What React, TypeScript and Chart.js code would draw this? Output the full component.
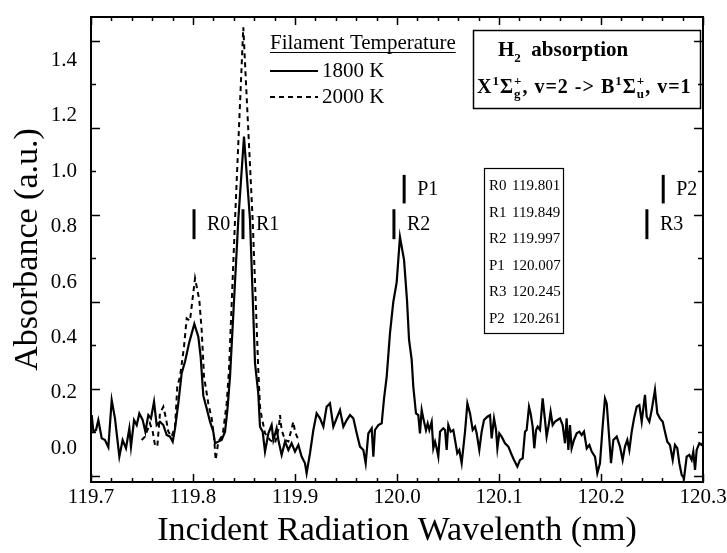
import React, { useEffect, useRef } from "react";
import { Chart, registerables } from "chart.js";

Chart.register(...registerables);

// ---------------- DATA ----------------
const X_MIN = 119.7;
const X_MAX = 120.3;
const Y_MIN = -0.1217;
const Y_MAX = 1.557;

const xTickValues = [119.7, 119.8, 119.9, 120.0, 120.1, 120.2, 120.3];
const xTickLabels = ["119.7", "119.8", "119.9", "120.0", "120.1", "120.2", "120.3"];
const yLabelValues = [0, 0.2, 0.4, 0.6, 0.8, 1.0, 1.2, 1.4];
const yTickLabels = ["0.0", "0.2", "0.4", "0.6", "0.8", "1.0", "1.2", "1.4"];
const yTickMarks = [1.471, 1.314, 1.157, 1.0, 0.843, 0.686, 0.529, 0.372, 0.215, 0.058, -0.099];

const seriesNames = ["1800 K", "2000 K"];
const legendTitle = "Filament Temperature";

const wavelength1800 = [
  119.7, 119.7007, 119.7023, 119.7049, 119.7072, 119.7105, 119.7137, 119.717, 119.7203, 119.7235,
  119.7278, 119.731, 119.7343, 119.7376, 119.7392, 119.7422, 119.7448, 119.7474, 119.7507, 119.7533,
  119.7562, 119.7588, 119.7618, 119.7644, 119.7676, 119.7709, 119.7742, 119.7775, 119.7801, 119.7824,
  119.7856, 119.7889, 119.7922, 119.7961, 119.8013, 119.8052, 119.8075, 119.8101, 119.8134, 119.8167,
  119.8199, 119.8216, 119.8248, 119.8281, 119.8314, 119.8337, 119.8363, 119.8444, 119.85, 119.8559,
  119.8608, 119.864, 119.8657, 119.8683, 119.8706, 119.8739, 119.8771, 119.8788, 119.882, 119.8837,
  119.8869, 119.8902, 119.8935, 119.8967, 119.9, 119.9033, 119.9065, 119.9098, 119.9114, 119.9147,
  119.918, 119.9212, 119.9245, 119.9278, 119.931, 119.9343, 119.9376, 119.9408, 119.9441, 119.9474,
  119.9507, 119.9539, 119.9572, 119.9605, 119.9637, 119.967, 119.9693, 119.9719, 119.9752, 119.9768,
  119.9784, 119.9817, 119.985, 119.9873, 119.9899, 119.9931, 119.9964, 119.9997, 120.0029, 120.0069,
  120.0098, 120.0118, 120.0144, 120.016, 120.0186, 120.0209, 120.0225, 120.0242, 120.0258, 120.0284,
  120.0301, 120.0317, 120.034, 120.0356, 120.0373, 120.0389, 120.0405, 120.0422, 120.0454, 120.0471,
  120.0487, 120.0503, 120.0526, 120.0552, 120.0569, 120.0591, 120.0611, 120.0634, 120.0667, 120.069,
  120.0716, 120.0742, 120.0765, 120.0781, 120.0807, 120.083, 120.0853, 120.0886, 120.0912, 120.0928,
  120.0951, 120.0971, 120.0984, 120.1003, 120.1026, 120.1059, 120.1092, 120.1118, 120.1147, 120.118,
  120.1206, 120.1232, 120.1255, 120.1271, 120.1294, 120.131, 120.133, 120.1346, 120.1363, 120.1379,
  120.1402, 120.1428, 120.1451, 120.1467, 120.149, 120.1506, 120.1526, 120.1549, 120.1572, 120.1598,
  120.1624, 120.1647, 120.1663, 120.168, 120.1696, 120.1712, 120.1735, 120.1762, 120.1788, 120.181,
  120.1833, 120.186, 120.1886, 120.1909, 120.1941, 120.1964, 120.199, 120.2016, 120.2039, 120.2056,
  120.2082, 120.2098, 120.2121, 120.2154, 120.2186, 120.2212, 120.2235, 120.2258, 120.2278, 120.2301,
  120.2324, 120.235, 120.2376, 120.2399, 120.2431, 120.2448, 120.2474, 120.2497, 120.2529, 120.2552,
  120.2578, 120.2605, 120.2627, 120.265, 120.2676, 120.2703, 120.2725, 120.2748, 120.2768, 120.2791,
  120.2814, 120.284, 120.2866, 120.2889, 120.2905, 120.2922, 120.2938, 120.2964, 120.2987, 120.3,
];
const absorbance1800 = [
  0.1, 0.12, 0.06, 0.066, 0.102, 0.036, 0.03, 0.004, 0.174, 0.108,
  -0.03, 0.03, 0.0, 0.072, 0.006, 0.102, 0.084, 0.126, 0.102, 0.06,
  0.12, 0.108, 0.168, 0.084, 0.096, 0.084, 0.048, 0.042, 0.024, 0.072,
  0.162, 0.271, 0.313, 0.379, 0.449, 0.403, 0.331, 0.19, 0.144, 0.096,
  0.06, 0.018, 0.024, 0.03, 0.06, 0.138, 0.259, 0.824, 1.125, 0.824,
  0.307, 0.198, 0.078, 0.06, -0.012, 0.054, 0.084, 0.03, 0.072, 0.03,
  -0.024, 0.024, -0.006, 0.018, -0.012, 0.012, -0.03, -0.054, -0.09, -0.018,
  0.066, 0.126, 0.108, 0.078, 0.15, 0.162, 0.078, 0.108, 0.138, 0.078,
  0.102, 0.12, 0.108, 0.054, 0.006, -0.006, -0.054, 0.054, 0.072, -0.03,
  0.066, 0.084, 0.09, 0.18, 0.259, 0.415, 0.529, 0.6, 0.763, 0.68,
  0.535, 0.392, 0.319, 0.222, 0.126, 0.12, 0.054, 0.138, 0.108, 0.066,
  0.09, 0.066, 0.096, 0.0, 0.024, 0.0, -0.03, 0.06, 0.072, 0.066,
  -0.006, 0.084, 0.06, 0.066, 0.03, -0.018, -0.006, -0.054, 0.06, 0.162,
  0.126, 0.066, 0.078, 0.054, -0.006, 0.06, 0.102, 0.114, 0.12, 0.036,
  0.108, 0.066, 0.0, 0.054, 0.042, 0.018, 0.006, -0.018, -0.042, -0.066,
  -0.042, -0.036, 0.06, 0.066, 0.15, 0.126, 0.078, 0.0, 0.066, 0.078,
  0.066, 0.18, 0.102, 0.042, 0.09, 0.132, 0.084, 0.096, 0.102, 0.108,
  0.084, 0.018, 0.108, -0.006, 0.084, 0.0, 0.03, 0.054, 0.06, 0.048,
  0.06, 0.0, 0.012, -0.012, -0.03, -0.09, -0.054, 0.078, 0.18, 0.162,
  0.03, -0.054, 0.03, 0.042, 0.006, -0.042, 0.006, 0.03, -0.006, 0.06,
  0.108, 0.15, 0.156, 0.096, 0.193, 0.114, 0.096, 0.138, 0.211, 0.126,
  0.108, 0.096, 0.06, 0.024, 0.012, -0.042, 0.012, 0.0, -0.054, -0.096,
  -0.108, -0.03, -0.024, -0.042, -0.012, -0.078, -0.006, 0.018, 0.012, 0.02,
];

const wavelength2000 = [
  119.7497, 119.7529, 119.7578, 119.7605, 119.7627, 119.765, 119.7676, 119.7709, 119.7735, 119.7758,
  119.7791, 119.7824, 119.7846, 119.7873, 119.7912, 119.7938, 119.797, 119.802, 119.8062, 119.8085,
  119.8108, 119.815, 119.8183, 119.8206, 119.8222, 119.8248, 119.8291, 119.833, 119.8353, 119.8412,
  119.8493, 119.8585, 119.864, 119.8657, 119.8673, 119.8706, 119.8755, 119.8804, 119.8843, 119.8853,
  119.8869, 119.8902, 119.8935, 119.8984, 119.9, 119.9033,
];
const absorbance2000 = [
  0.03, 0.042, 0.09, 0.06, 0.012, 0.006, 0.126, 0.15, 0.108, 0.06,
  0.042, 0.078, 0.223, 0.259, 0.367, 0.469, 0.46, 0.614, 0.535, 0.427,
  0.259, 0.162, 0.108, 0.042, -0.042, 0.024, 0.048, 0.162, 0.283, 0.824,
  1.52, 0.824, 0.283, 0.15, 0.114, 0.054, 0.03, 0.018, 0.078, 0.12,
  0.066, 0.03, 0.024, 0.096, 0.06, 0.03,
];

const lineNames = ["R0", "R1", "R2", "P1", "R3", "P2"];
const lineWavelengths = [119.801, 119.849, 119.997, 120.007, 120.245, 120.261];
const rBarRange = [0.755, 0.863];
const pBarRange = [0.884, 0.987];

// ---------------- DRAWING ----------------
const FONT = '"Liberation Serif", "Times New Roman", serif';

type Part = { t?: string; size: number; dy?: number; sub?: string; sup?: string };

function drawParts(ctx: any, x: number, y: number, parts: Part[], spacing: number) {
  ctx.letterSpacing = `${spacing}px`;
  for (const p of parts) {
    ctx.font = `bold ${p.size}px ${FONT}`;
    if (p.t !== undefined) {
      ctx.fillText(p.t, x, y + (p.dy || 0));
      x += ctx.measureText(p.t).width;
    } else {
      const w1 = ctx.measureText(p.sub || "").width;
      const w2 = ctx.measureText(p.sup || "").width;
      ctx.fillText(p.sub || "", x, y + 5);
      ctx.fillText(p.sup || "", x, y - 8);
      x += Math.max(w1, w2);
    }
  }
  ctx.letterSpacing = "0px";
}

const decorPlugin = {
  id: "decor",
  afterDatasetsDraw(chart: any) {
    const { ctx, chartArea: a, scales } = chart;
    const xs = scales.x;
    const ys = scales.y;
    ctx.save();
    ctx.strokeStyle = "#000";
    ctx.fillStyle = "#000";

    // frame
    ctx.lineWidth = 2;
    ctx.strokeRect(a.left, a.top, a.right - a.left, a.bottom - a.top);

    // x ticks (inward, top and bottom)
    ctx.lineWidth = 1.5;
    for (let i = 0; i <= 30; i++) {
      const v = X_MIN + i * 0.02;
      const px = Math.round(xs.getPixelForValue(v)) + 0.5;
      const len = i % 5 === 0 ? 8 : 4;
      ctx.beginPath();
      ctx.moveTo(px, a.bottom);
      ctx.lineTo(px, a.bottom - len);
      ctx.moveTo(px, a.top);
      ctx.lineTo(px, a.top + len);
      ctx.stroke();
    }
    // y ticks (inward, left and right)
    yTickMarks.forEach((v, i) => {
      const py = Math.round(ys.getPixelForValue(v)) + 0.5;
      const len = i % 2 === 0 ? 9 : 5;
      ctx.beginPath();
      ctx.moveTo(a.left, py);
      ctx.lineTo(a.left + len, py);
      ctx.moveTo(a.right, py);
      ctx.lineTo(a.right - len, py);
      ctx.stroke();
    });

    // tick labels
    ctx.font = `21px ${FONT}`;
    ctx.textAlign = "center";
    ctx.textBaseline = "middle";
    xTickValues.forEach((v, i) => {
      ctx.fillText(xTickLabels[i], xs.getPixelForValue(v), 497);
    });
    ctx.textAlign = "right";
    yLabelValues.forEach((v, i) => {
      ctx.fillText(yTickLabels[i], 77, ys.getPixelForValue(v));
    });

    // axis titles
    ctx.font = `34px ${FONT}`;
    ctx.textAlign = "center";
    ctx.fillText("Incident Radiation Wavelenth (nm)", (a.left + a.right) / 2, 531);
    ctx.save();
    ctx.translate(28, (a.top + a.bottom) / 2);
    ctx.rotate(-Math.PI / 2);
    ctx.fillText("Absorbance (a.u.)", 0, 0);
    ctx.restore();

    // legend
    ctx.font = `21px ${FONT}`;
    ctx.textAlign = "left";
    ctx.textBaseline = "alphabetic";
    ctx.fillText(legendTitle, 270, 49);
    const tw = ctx.measureText(legendTitle).width;
    ctx.lineWidth = 1.2;
    ctx.beginPath();
    ctx.moveTo(270, 52.5);
    ctx.lineTo(270 + tw, 52.5);
    ctx.stroke();
    ctx.textBaseline = "middle";
    const legendY = [71, 97];
    legendY.forEach((ly, i) => {
      ctx.lineWidth = 2;
      ctx.setLineDash(i === 1 ? [5, 4] : []);
      ctx.beginPath();
      ctx.moveTo(270, ly);
      ctx.lineTo(318, ly);
      ctx.stroke();
      ctx.setLineDash([]);
      ctx.fillText(seriesNames[i], 322, ly);
    });

    // title box
    ctx.lineWidth = 1.5;
    ctx.strokeRect(473.5, 30.5, 227, 78);
    ctx.textBaseline = "alphabetic";
    drawParts(
      ctx,
      498,
      56,
      [
        { t: "H", size: 21 },
        { t: "2", size: 13, dy: 6 },
        { t: "  absorption", size: 21 },
      ],
      0
    );
    drawParts(
      ctx,
      477,
      93,
      [
        { t: "X", size: 20 },
        { t: "1", size: 13, dy: -8 },
        { t: "Σ", size: 20 },
        { sub: "g", sup: "+", size: 13 },
        { t: ", v=2 -> B", size: 20 },
        { t: "1", size: 13, dy: -8 },
        { t: "Σ", size: 20 },
        { sub: "u", sup: "+", size: 13 },
        { t: ", v=1", size: 20 },
      ],
      1.0
    );

    // table box
    ctx.lineWidth = 1.2;
    ctx.strokeRect(484.5, 168.5, 79, 165);
    ctx.font = `15px ${FONT}`;
    ctx.textBaseline = "middle";
    lineNames.forEach((n, i) => {
      const ry = 186.5 + i * 26.5;
      ctx.fillText(n, 489, ry);
      ctx.fillText(lineWavelengths[i].toFixed(3), 512, ry);
    });

    // line markers
    ctx.font = `20px ${FONT}`;
    ctx.lineWidth = 3;
    lineNames.forEach((n, i) => {
      const px = xs.getPixelForValue(lineWavelengths[i]);
      const r = n[0] === "P" ? pBarRange : rBarRange;
      const y0 = ys.getPixelForValue(r[0]);
      const y1 = ys.getPixelForValue(r[1]);
      ctx.beginPath();
      ctx.moveTo(px, y0);
      ctx.lineTo(px, y1);
      ctx.stroke();
      ctx.fillText(n, px + 13, (y0 + y1) / 2 + 1);
    });

    ctx.restore();
  },
};

export default function App() {
  const ref = useRef<HTMLCanvasElement | null>(null);
  useEffect(() => {
    if (!ref.current) return;
    const chart = new Chart(ref.current, {
      type: "line",
      data: {
        datasets: [
          {
            label: seriesNames[0],
            data: wavelength1800.map((x, i) => ({ x, y: absorbance1800[i] })),
            borderColor: "#000",
            borderWidth: 2.2,
            pointRadius: 0,
            tension: 0,
            fill: false,
          },
          {
            label: seriesNames[1],
            data: wavelength2000.map((x, i) => ({ x, y: absorbance2000[i] })),
            borderColor: "#000",
            borderWidth: 2,
            borderDash: [5, 4],
            pointRadius: 0,
            tension: 0,
            fill: false,
          },
        ],
      },
      options: {
        animation: false,
        responsive: false,
        maintainAspectRatio: false,
        layout: { padding: { left: 91, top: 17, right: 24, bottom: 71 } },
        plugins: { legend: { display: false }, tooltip: { enabled: false }, title: { display: false } },
        scales: {
          x: { type: "linear", min: X_MIN, max: X_MAX, display: false },
          y: { type: "linear", min: Y_MIN, max: Y_MAX, display: false },
        },
      },
      plugins: [decorPlugin],
    });
    return () => chart.destroy();
  }, []);
  return (
    <div style={{ position: "absolute", left: 0, top: 0, width: 727, height: 553, background: "#fff" }}>
      <canvas ref={ref} width={727} height={553} />
    </div>
  );
}
